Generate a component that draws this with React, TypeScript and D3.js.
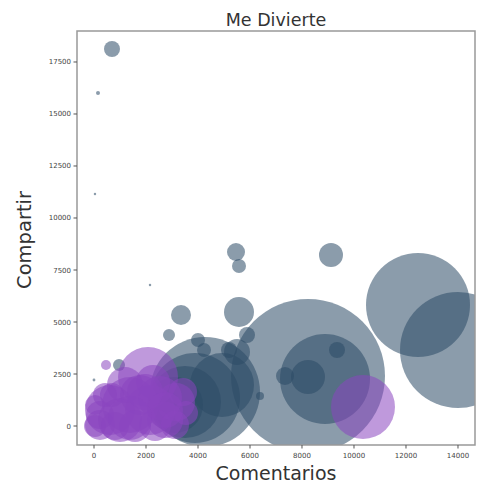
import React from "react";
import * as d3 from "d3";

// Blue series (reading values off the picture)
const blueComentarios = [692, 154, 38, 2154, 3346, 5462, 5577, 9115, 12462, 14000, 8231, 8885, 8231, 7346, 9346, 6385, 5577, 5885, 2885, 4000, 4231, 5192, 5500, 962, 4269, 3885, 3500, 3115, 4923, 0];
const blueCompartir = [18125, 16010, 11154, 6779, 5337, 8365, 7692, 8221, 5817, 3654, 2404, 2260, 2356, 2404, 3654, 1442, 5481, 4375, 4375, 4135, 3654, 3654, 3558, 2933, 1635, 1346, 1154, 1010, 1971, 2212];
const blueSize = [64, 4, 1.5, 1.5, 100, 81, 49, 144, 2704, 3364, 5929, 2025, 289, 81, 64, 16, 225, 64, 36, 49, 49, 64, 169, 36, 3025, 2025, 1296, 784, 1024, 2];

// Purple series
const purpleComentarios = [2077, 10346, 462, 3154, 3423, 3538, 2269, 615, 1385, 1000, 2154, 231, 1769, 2538, 38, 1192, 692, 2731, 231, 38, 808, 1577, 2346, 3115, 423, 1962, 2731, 1385];
const purpleCompartir = [2356, 913, 2933, 1154, 1635, 625, 2115, 769, 1010, 288, 769, 48, 1490, 1346, 1010, 1971, 1490, 288, 529, 0, 0, 0, 48, 48, 1490, 1635, 769, 385];
const purpleSize = [900, 1024, 25, 361, 196, 144, 289, 625, 784, 484, 625, 225, 400, 484, 100, 324, 144, 324, 196, 121, 196, 256, 256, 196, 144, 324, 324, 484];

const xTicks = [0, 2000, 4000, 6000, 8000, 10000, 12000, 14000];
const yTicks = [0, 2500, 5000, 7500, 10000, 12500, 15000, 17500];

const W = 478, H = 484;
const left = 77, right = 475, top = 31, bottom = 445;

export default function App() {
  const x = d3.scaleLinear().domain([-654, 14654]).range([left, right]);
  const y = d3.scaleLinear().domain([-913, 18990]).range([bottom, top]);
  const r = d3.scaleSqrt().domain([0, 10000]).range([0, 100]);

  const blue = blueComentarios.map((c, i) => ({ c, s: blueCompartir[i], z: blueSize[i] }));
  const purple = purpleComentarios.map((c, i) => ({ c, s: purpleCompartir[i], z: purpleSize[i] }));

  const font = "DejaVu Sans, sans-serif";
  return (
    <svg width={W} height={H} style={{ position: "absolute", left: 0, top: 0, background: "#fff" }} fontFamily={font}>
      <defs>
        <clipPath id="plot">
          <rect x={left} y={top} width={right - left} height={bottom - top} />
        </clipPath>
      </defs>
      <g clipPath="url(#plot)">
        {blue.map((d, i) => (
          <circle key={"b" + i} cx={x(d.c)} cy={y(d.s)} r={r(d.z)} fill="#2b4a66" fillOpacity={0.55} />
        ))}
        {purple.map((d, i) => (
          <circle key={"p" + i} cx={x(d.c)} cy={y(d.s)} r={r(d.z)} fill="#8a45c0" fillOpacity={0.55} />
        ))}
      </g>
      <rect x={left} y={top} width={right - left} height={bottom - top} fill="none" stroke="#999" strokeWidth={1.5} />
      {xTicks.map((t) => (
        <g key={"x" + t}>
          <line x1={x(t)} x2={x(t)} y1={bottom} y2={bottom + 3.5} stroke="#555" />
          <text x={x(t)} y={bottom + 13} fontSize={7} textAnchor="middle" fill="#444">{t}</text>
        </g>
      ))}
      {yTicks.map((t) => (
        <g key={"y" + t}>
          <line x1={left - 3.5} x2={left} y1={y(t)} y2={y(t)} stroke="#555" />
          <text x={left - 6} y={y(t) + 2.5} fontSize={7} textAnchor="end" fill="#444">{t}</text>
        </g>
      ))}
      <text x={276} y={26} fontSize={17.5} textAnchor="middle" fill="#333">Me Divierte</text>
      <text x={276} y={480} fontSize={19} textAnchor="middle" fill="#333">Comentarios</text>
      <text transform="translate(31,240) rotate(-90)" fontSize={19.5} textAnchor="middle" fill="#333">Compartir</text>
    </svg>
  );
}
